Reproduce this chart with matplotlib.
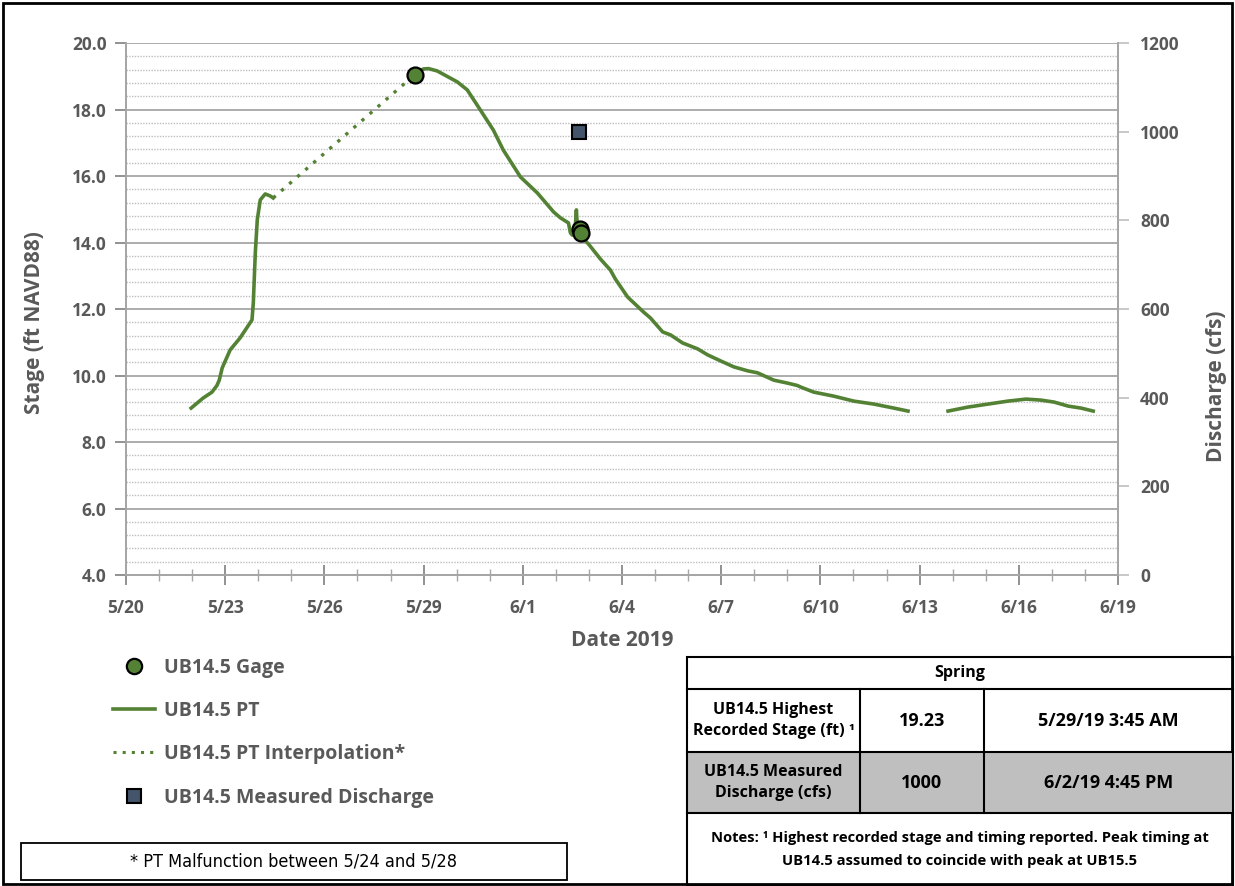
import numpy as np
import matplotlib
matplotlib.use('Agg')
import matplotlib.pyplot as plt
from matplotlib.lines import Line2D
from matplotlib.patches import Rectangle

plt.rcParams['font.family'] = ['Open Sans', 'DejaVu Sans']

# days counted from 5/20/2019 00:00
pt_day = [1.97, 2.33, 2.60, 2.75, 2.82, 2.91, 3.15, 3.45, 3.81, 3.85, 3.91, 3.97, 4.06, 4.21, 4.36, 4.45,
          np.nan,
          8.85, 9.00, 9.15, 9.41, 10.02, 10.32, 10.72, 11.11, 11.41, 11.93, 12.44, 12.93, 13.14, 13.38,
          13.44, 13.50, 13.58, 13.62, 13.65, 13.75, 13.99, 14.35, 14.65, 14.80, 15.17, 15.65, 15.86,
          16.23, 16.47, 16.83, 17.29, 17.59, 17.98, 18.38, 18.80, 19.10, 19.59, 20.01, 20.30, 20.41,
          20.80, 21.40, 22.01, 22.62, 23.22, 23.65,
          np.nan,
          24.86, 25.46, 26.07, 26.67, 27.22, 27.67, 28.07, 28.49, 28.88, 29.25]
pt_stage = [9.02, 9.32, 9.50, 9.70, 9.86, 10.23, 10.77, 11.13, 11.67, 12.18, 13.68, 14.68, 15.28, 15.46, 15.40, 15.34,
            np.nan,
            19.15, 19.22, 19.23, 19.16, 18.83, 18.59, 17.98, 17.38, 16.78, 15.97, 15.49, 14.92, 14.74, 14.59,
            14.29, 14.22, 14.35, 14.98, 14.47, 14.20, 13.95, 13.50, 13.17, 12.90, 12.36, 11.91, 11.73,
            11.31, 11.22, 10.98, 10.80, 10.62, 10.44, 10.26, 10.14, 10.08, 9.86, 9.77, 9.70, 9.65,
            9.50, 9.38, 9.23, 9.14, 9.02, 8.93,
            np.nan,
            8.93, 9.05, 9.14, 9.23, 9.29, 9.26, 9.20, 9.08, 9.02, 8.93]

interp_day = [4.45, 8.85]
interp_stage = [15.34, 19.15]

gage_day = [8.75, 13.72, 13.76]
gage_stage = [19.03, 14.40, 14.28]

q_day = [13.70]
q_cfs = [1000]

tick_days = np.arange(0, 31, 3)
tick_labels = ['5/20', '5/23', '5/26', '5/29', '6/1', '6/4', '6/7', '6/10', '6/13', '6/16', '6/19']

table_rows = [['UB14.5 Highest\nRecorded Stage (ft) \u00b9', '19.23', '5/29/19 3:45 AM'],
              ['UB14.5 Measured\nDischarge (cfs)', '1000', '6/2/19 4:45 PM']]

green = '#548235'
gris = '#595959'

fig = plt.figure(figsize=(12.35, 8.86), dpi=100)
ax = fig.add_axes([126/1235, 1-575/886, (1118-126)/1235, (575-43)/886])
ax2 = ax.twinx()

ax.plot(pt_day, pt_stage, color=green, lw=2.6, zorder=3)
ax.plot(interp_day, interp_stage, color=green, lw=2.4, ls=(0, (1, 2.2)), zorder=3)
ax.plot(gage_day, gage_stage, ls='none', marker='o', ms=11.5, mfc=green, mec='black', mew=1.6, zorder=4)
ax2.plot(q_day, q_cfs, ls='none', marker='s', ms=10.5, mfc='#44546a', mec='black', mew=1.5, zorder=4)

ax.set_xlim(0, 30)
ax.set_ylim(4, 20)
ax2.set_ylim(0, 1200)
ax.set_yticks(np.arange(4, 20.1, 2))
ax.set_yticklabels(['%.1f' % v for v in np.arange(4, 20.1, 2)])
ax.set_yticks(np.arange(4, 20.01, 0.4), minor=True)
ax2.set_yticks(np.arange(0, 1201, 200))
ax.set_xticks(tick_days)
ax.set_xticklabels(tick_labels)
ax.set_xticks(np.arange(0, 31, 1), minor=True)

ax.grid(which='major', axis='y', color='#a6a6a6', lw=1.3)
ax.grid(which='minor', axis='y', color='#bdbdbd', lw=1.0, ls=(0, (1, 1)))
ax.set_axisbelow(True)

for a in (ax, ax2):
    for s in a.spines.values():
        s.set_color('#a6a6a6')
        s.set_linewidth(1.3)
    a.spines['top'].set_visible(False)

ax.tick_params(axis='x', which='major', direction='inout', length=14, width=1.2, color='#7f7f7f',
               labelsize=12.5, labelcolor=gris, pad=10)
ax.tick_params(axis='x', which='minor', direction='inout', length=9, width=1.0, color='#a6a6a6')
ax.tick_params(axis='y', which='major', direction='out', length=8, width=1.2, color='#7f7f7f',
               labelsize=12.5, labelcolor=gris, pad=6)
ax.tick_params(axis='y', which='minor', length=0)
ax2.tick_params(axis='y', direction='out', length=8, width=1.2, color='#bfbfbf',
                labelsize=12.5, labelcolor=gris, pad=8)
for lab in ax.get_xticklabels() + ax.get_yticklabels() + ax2.get_yticklabels():
    lab.set_fontweight('bold')

ax.set_xlabel('Date 2019', fontsize=15, fontweight='bold', color=gris, labelpad=10)
ax.set_ylabel('Stage (ft NAVD88)', fontsize=15, fontweight='bold', color=gris)
ax2.set_ylabel('Discharge (cfs)', fontsize=15, fontweight='bold', color=gris)
ax.yaxis.set_label_coords(-0.082, 0.475)
ax2.yaxis.set_label_coords(1.089, 0.355)

handles = [Line2D([], [], ls='none', marker='o', ms=11, mfc=green, mec='black', mew=1.6),
           Line2D([], [], color=green, lw=2.6),
           Line2D([], [], color=green, lw=2.2, ls=(0, (1, 2))),
           Line2D([], [], ls='none', marker='s', ms=10, mfc='#44546a', mec='black', mew=1.5)]
labels = ['UB14.5 Gage', 'UB14.5 PT', 'UB14.5 PT Interpolation*', 'UB14.5 Measured Discharge']
leg = fig.legend(handles, labels, loc='upper left', bbox_to_anchor=(95/1235, 1-640/886),
                 frameon=False, fontsize=14, labelspacing=1.2, handlelength=2.2, handletextpad=0.45)
for t in leg.get_texts():
    t.set_color(gris)
    t.set_fontweight('bold')

# overlay in pixel coordinates for boxes and table
ov = fig.add_axes([0, 0, 1, 1], zorder=-1)
ov.set_xlim(0, 1235)
ov.set_ylim(886, 0)
ov.axis('off')

ov.add_patch(Rectangle((3, 3), 1229, 881, fill=False, ec='black', lw=2))
ov.add_patch(Rectangle((21, 843), 546, 37, fill=False, ec='black', lw=1.3))
ov.text(294, 862, '* PT Malfunction between 5/24 and 5/28', ha='center', va='center', fontsize=13,
        family=['Liberation Sans Narrow', 'DejaVu Sans'], stretch='condensed')

x0, x1, x2, x3 = 687, 860, 984, 1233
y0, y1, y2, y3, y4 = 657, 689, 752, 813, 886
ov.add_patch(Rectangle((x0, y2), x3 - x0, y3 - y2, fc='#bfbfbf', ec='none'))
ov.add_patch(Rectangle((x0, y0), x3 - x0, y4 - y0, fill=False, ec='black', lw=1.5))
for yy in (y1, y2, y3):
    ov.plot([x0, x3], [yy, yy], color='black', lw=1.5)
for xx in (x1, x2):
    ov.plot([xx, xx], [y1, y3], color='black', lw=1.5)
ov.text((x0 + x3) / 2, (y0 + y1) / 2, 'Spring', ha='center', va='center', fontsize=11.5, fontweight='bold')
for i, row in enumerate(table_rows):
    yc = [(y1 + y2) / 2, (y2 + y3) / 2][i]
    ov.text((x0 + x1) / 2, yc, row[0], ha='center', va='center', fontsize=11.5, fontweight='bold', linespacing=1.35)
    ov.text((x1 + x2) / 2, yc, row[1], ha='center', va='center', fontsize=13, fontweight='bold')
    ov.text((x2 + x3) / 2, yc, row[2], ha='center', va='center', fontsize=13, fontweight='bold')
ov.text((x0 + x3) / 2, (y3 + y4) / 2,
        'Notes: \u00b9 Highest recorded stage and timing reported. Peak timing at\nUB14.5 assumed to coincide with peak at UB15.5',
        ha='center', va='center', fontsize=10.6, fontweight='bold', linespacing=1.9)

fig.savefig('out.png', dpi=100)
